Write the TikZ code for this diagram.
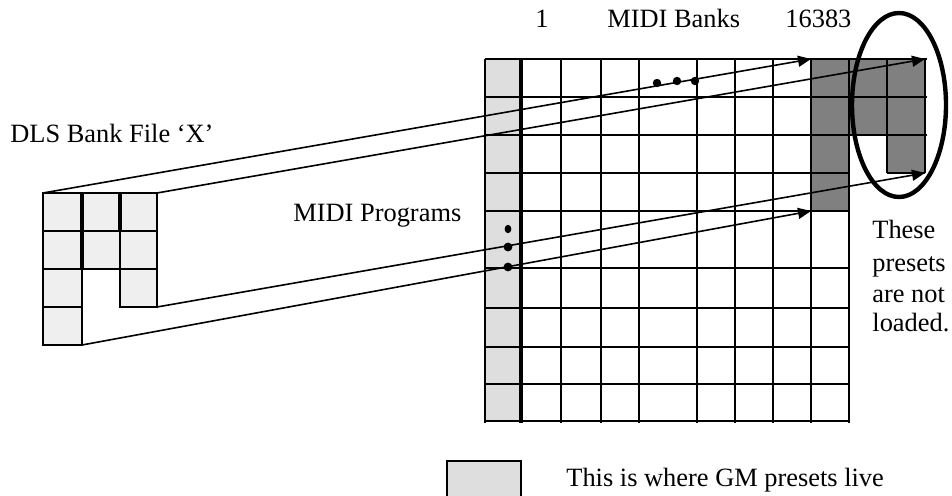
\documentclass[tikz,border=0pt]{standalone}
\usepackage{fontspec}
\setmainfont{Liberation Serif}
\usetikzlibrary{arrows.meta}
\definecolor{colgray}{HTML}{DEDEDE}
\definecolor{dlsgray}{HTML}{EFEFEF}
\definecolor{darkcell}{HTML}{808080}
\begin{document}
\begin{tikzpicture}[x=0.5pt,y=-0.5pt,
  gridline/.style={line width=1pt},
  conn/.style={line width=0.8pt,-{Triangle[length=6.5pt,width=5.5pt]}},
  lbl/.style={anchor=base west,inner sep=0pt,font=\fontsize{13.2}{15.5}\selectfont},
  dlscell/.style={fill=dlsgray,draw=black,line width=1pt}]
\useasboundingbox (0,0) rectangle (952,496);
\clip (0,0) rectangle (952,496);

% ---- main grid fills
\fill[colgray] (485,59) rectangle (521,421);
\fill[darkcell] (811,59) rectangle (849,211);
\fill[darkcell] (849,59) rectangle (887,135);
\fill[darkcell] (887,59) rectangle (925,173);

% ---- grid lines
\foreach \yy in {59,97,135} \draw[gridline] (485,\yy) -- (927,\yy);
\draw[gridline] (485,173) -- (849,173);
\draw[gridline] (887,173) -- (925,173);
\foreach \yy in {211,268,308,347,384,421} \draw[gridline] (485,\yy) -- (849,\yy);
\foreach \xx in {485,561,601,639,697,735,773,811,849} \draw[gridline] (\xx,59) -- (\xx,423);
\draw[line width=1.7pt] (521,59) -- (521,423);
\draw[gridline] (887,59) -- (887,173);
\draw[gridline] (925,59) -- (925,173);

% ---- DLS bank file cells
\draw[dlscell] (43,193) rectangle (82,231);
\draw[dlscell] (43,231) rectangle (82,269);
\draw[dlscell] (43,269) rectangle (82,307);
\draw[dlscell] (43,307) rectangle (82,345);
\draw[dlscell] (82,193) rectangle (120,231);
\draw[dlscell] (82,231) rectangle (120,269);
\draw[dlscell] (120,193) rectangle (157,231);
\draw[dlscell] (120,231) rectangle (157,269);
\draw[dlscell] (120,269) rectangle (157,307);
\draw[line width=1.6pt] (82,193) -- (82,269);
\draw[line width=1.6pt] (120,193) -- (120,231);

% ---- named corners
\coordinate (d1) at (43,193);
\coordinate (d2) at (157,193);
\coordinate (d3) at (157,307);
\coordinate (d4) at (82,345);
\coordinate (g1) at (811,59);
\coordinate (g2) at (925,59);
\coordinate (g3) at (925,173);
\coordinate (g4) at (811,211);

% ---- connectors
\draw[conn] (d1) -- (g1);
\draw[conn] (d2) -- (g2);
\draw[conn] (d3) -- (g3);
\draw[conn] (d4) -- (g4);

% ---- dots
\fill (657,83) circle[radius=2.1pt];
\fill (677,81) circle[radius=2.1pt];
\fill (695,81) circle[radius=2.1pt];
\fill (508,229) ellipse[x radius=1.7pt, y radius=2.1pt];
\fill (508,247) circle[radius=2.2pt];
\fill (508,267) circle[radius=2.2pt];

% ---- ellipse
\draw[line width=2.2pt] (899,105) ellipse[x radius=23.5pt, y radius=46pt];

% ---- legend box
\draw[fill=colgray,line width=1pt] (447,461) rectangle (521,500);

% ---- labels
\node[lbl] (tdls) at (10,143) {DLS Bank File ‘X’};
\node[lbl] (tprog) at (293,222) {MIDI Programs};
\node[lbl] (tone) at (535,28) {1};
\node[lbl] (tbanks) at (607,28) {MIDI Banks};
\node[lbl] (tlast) at (785,28) {16383};
\node[lbl] (tthese) at (872,239) {These};
\node[lbl] (tpresets) at (872,272) {presets};
\node[lbl] (tarenot) at (872,303) {are not};
\node[lbl] (tloaded) at (872,332) {loaded.};
\node[lbl] (tlegend) at (566,486) {This is where GM presets live};
\end{tikzpicture}
\end{document}
